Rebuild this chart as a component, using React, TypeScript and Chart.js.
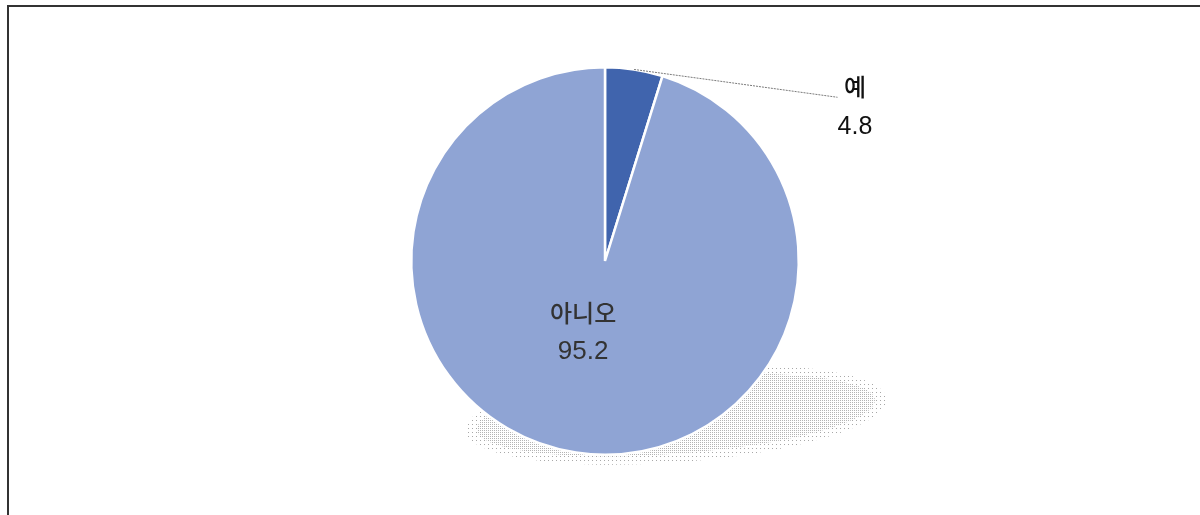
import { useEffect, useRef } from 'react';
import { Chart, registerables } from 'chart.js';

Chart.register(...registerables);

const categories = ['예', '아니오'];
const values = [4.8, 95.2];
const sliceColors = ['#4064AD', '#8FA4D4'];

function dotPattern(ctx: CanvasRenderingContext2D, step: number, color: string) {
  const c = document.createElement('canvas');
  c.width = step;
  c.height = step;
  const g = c.getContext('2d')!;
  g.fillStyle = color;
  g.fillRect(0, 0, 1, 1);
  return ctx.createPattern(c, 'repeat');
}

const shadowPlugin = {
  id: 'pieShadow',
  beforeDatasetsDraw(chart: any) {
    const arc = chart.getDatasetMeta(0).data[0];
    if (!arc) return;
    const { x, y, outerRadius: R } = arc.getProps(['x', 'y', 'outerRadius'], true);
    const ctx: CanvasRenderingContext2D = chart.ctx;
    const cx = x + 0.366 * R;
    const cy = y + 0.794 * R;
    const rot = (-4.3 * Math.PI) / 180;
    ctx.save();
    ctx.fillStyle = dotPattern(ctx, 4, '#a8a8a8') as any;
    ctx.beginPath();
    ctx.ellipse(cx, cy, 1.09 * R, 0.245 * R, rot, 0, Math.PI * 2);
    ctx.fill();
    ctx.fillStyle = dotPattern(ctx, 2, '#b4b4b4') as any;
    ctx.beginPath();
    ctx.ellipse(cx, cy, 1.03 * R, 0.2 * R, rot, 0, Math.PI * 2);
    ctx.fill();
    ctx.restore();
  },
};

const labelPlugin = {
  id: 'pieLabels',
  afterDatasetsDraw(chart: any) {
    const ctx: CanvasRenderingContext2D = chart.ctx;
    const arcs = chart.getDatasetMeta(0).data;
    ctx.save();
    ctx.textAlign = 'center';
    ctx.textBaseline = 'middle';
    const font = '"Liberation Sans", "Noto Sans CJK KR", sans-serif';

    // inside label for the large slice
    {
      const a = arcs[1];
      const { x, y, startAngle, endAngle, outerRadius: R } = a.getProps(
        ['x', 'y', 'startAngle', 'endAngle', 'outerRadius'],
        true
      );
      const mid = (startAngle + endAngle) / 2 + 0.143;
      const px = x + Math.cos(mid) * R * 0.39;
      const py = y + Math.sin(mid) * R * 0.39;
      ctx.fillStyle = '#333333';
      ctx.font = `500 24px ${font}`;
      ctx.fillText(categories[1], px, py - 18);
      ctx.font = `26px ${font}`;
      ctx.fillText(values[1].toFixed(1), px, py + 19);
    }

    // outside label with leader line for the small slice
    {
      const a = arcs[0];
      const { x, y, startAngle, endAngle, outerRadius: R } = a.getProps(
        ['x', 'y', 'startAngle', 'endAngle', 'outerRadius'],
        true
      );
      const mid = (startAngle + endAngle) / 2;
      const sx = x + Math.cos(mid) * R;
      const sy = y + Math.sin(mid) * R;
      const ex = x + 1.2 * R;
      const ey = y - 0.845 * R;
      ctx.strokeStyle = '#7a7a7a';
      ctx.lineWidth = 1;
      ctx.setLineDash([2, 1]);
      ctx.beginPath();
      ctx.moveTo(sx, sy);
      ctx.lineTo(ex, ey);
      ctx.stroke();
      ctx.setLineDash([]);
      const lx = x + 1.29 * R;
      const ly = y - 0.79 * R;
      ctx.fillStyle = '#111111';
      ctx.font = `500 24px ${font}`;
      ctx.fillText(categories[0], lx, ly - 19);
      ctx.font = `25px ${font}`;
      ctx.fillText(values[0].toFixed(1), lx, ly + 19);
    }
    ctx.restore();
  },
};

export default function App() {
  const ref = useRef<HTMLCanvasElement>(null);

  useEffect(() => {
    if (!ref.current) return;
    const chart = new Chart(ref.current, {
      type: 'pie',
      data: {
        labels: categories,
        datasets: [
          {
            data: values,
            backgroundColor: sliceColors,
            borderColor: '#ffffff',
            borderWidth: 2.5,
          },
        ],
      },
      options: {
        responsive: false,
        animation: false,
        layout: { padding: { left: 410, right: 400, top: 66, bottom: 59 } },
        plugins: {
          legend: { display: false },
          tooltip: { enabled: false },
        },
      },
      plugins: [shadowPlugin, labelPlugin],
    });
    return () => chart.destroy();
  }, []);

  return (
    <div style={{ position: 'fixed', left: 0, top: 0, width: 1200, height: 515, background: '#fff', overflow: 'hidden' }}>
      <canvas ref={ref} width={1200} height={515} style={{ position: 'absolute', left: 0, top: 0 }} />
      <div
        style={{
          position: 'absolute',
          left: 7,
          top: 5,
          width: 1300,
          height: 600,
          borderTop: '2px solid #333',
          borderLeft: '2px solid #333',
          pointerEvents: 'none',
        }}
      />
    </div>
  );
}
